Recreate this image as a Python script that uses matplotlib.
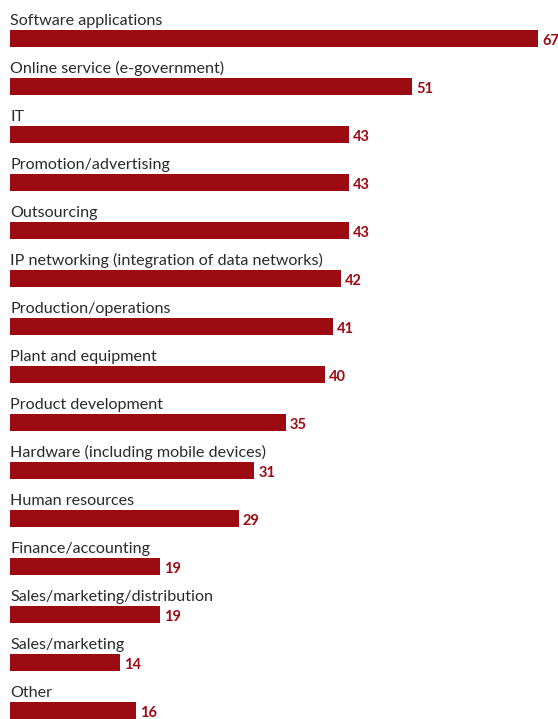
import matplotlib.pyplot as plt

categories = [
    "Software applications",
    "Online service (e-government)",
    "IT",
    "Promotion/advertising",
    "Outsourcing",
    "IP networking (integration of data networks)",
    "Production/operations",
    "Plant and equipment",
    "Product development",
    "Hardware (including mobile devices)",
    "Human resources",
    "Finance/accounting",
    "Sales/marketing/distribution",
    "Sales/marketing",
    "Other",
]
values = [67, 51, 43, 43, 43, 42, 41, 40, 35, 31, 29, 19, 19, 14, 16]

bar_color = "#9c0a12"

W, H = 558, 719
fig = plt.figure(figsize=(W / 100, H / 100), dpi=100)
# axes spans the bar area only; rows are 48 px apart
ax = fig.add_axes([10 / W, 0, (538 - 10) / W, 1])

rows = list(range(len(categories)))
ax.barh(rows, values, height=17 / 48, color=bar_color, align="center")

for i, (name, v) in enumerate(zip(categories, values)):
    ax.text(0, i - 13.5 / 48, name, ha="left", va="baseline",
            fontsize=11.6, color="#2a2a2a", family="Lato")
    ax.annotate(str(v), (v, i), xytext=(3, -1.5), textcoords="offset points",
                ha="left", va="center", fontsize=10.5, fontweight="bold",
                color=bar_color, family="Lato")

ax.set_xlim(0, 67)
ax.set_ylim((H - 38.5) / 48, -38.5 / 48)
ax.axis("off")

fig.savefig("out.png", dpi=100)
